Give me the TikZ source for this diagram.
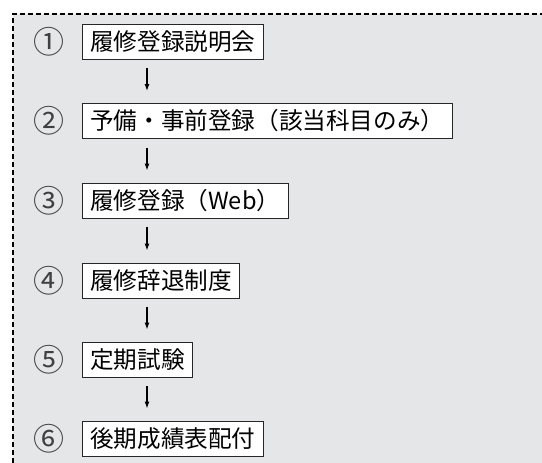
\documentclass[tikz,border=0pt]{standalone}
\usepackage{fontspec}
\setmainfont{Noto Sans CJK JP}
\usepackage{tikz}
\usetikzlibrary{arrows.meta}
\definecolor{panelgray}{HTML}{E5E6E8}
\tikzset{>={Latex[length=7pt,width=5pt]}}

\begin{document}
\begin{tikzpicture}[x=1pt, y=-1pt,
  entry/.style={draw=black!85, fill=white, line width=0.9pt, anchor=west,
    inner xsep=7.8pt, inner ysep=0pt, minimum height=35pt,
    text height=19.8pt, text depth=2.6pt, font=\fontsize{23.6}{28}\selectfont},
  num/.style={inner sep=0pt, font=\fontsize{31}{34}\selectfont, text=black!75}]
\useasboundingbox (0,0) rectangle (542,463);
% panel
\fill[panelgray] (13,14) rectangle (542,463);
\draw[line width=1.3pt, dash pattern=on 5pt off 3pt] (13,463) -- (13,14) -- (542,14);
% steps
\node[num] (n1) at (49,41.5) {①};
\node[entry] (e1) at (82,41.5) {履修登録説明会};
\node[num] (n2) at (49,121) {②};
\node[entry] (e2) at (82,121) {予備・事前登録（該当科目のみ）};
\node[num] (n3) at (49,200.5) {③};
\node[entry] (e3) at (82,200.5) {履修登録（Web）};
\node[num] (n4) at (49,280.5) {④};
\node[entry] (e4) at (82,280.5) {履修辞退制度};
\node[num] (n5) at (49,359.5) {⑤};
\node[entry] (e5) at (82,359.5) {定期試験};
\node[num] (n6) at (49,438.5) {⑥};
\node[entry] (e6) at (82,438.5) {後期成績表配付};
% arrows
\path[->, line width=1.2pt]
([xshift=65pt,yshift=-9pt]e1.south west) edge ([xshift=65pt,yshift=12pt]e2.north west)
([xshift=65pt,yshift=-9pt]e2.south west) edge ([xshift=65pt,yshift=12pt]e3.north west)
([xshift=65pt,yshift=-9pt]e3.south west) edge ([xshift=65pt,yshift=12pt]e4.north west)
([xshift=65pt,yshift=-9pt]e4.south west) edge ([xshift=65pt,yshift=12pt]e5.north west)
([xshift=65pt,yshift=-9pt]e5.south west) edge ([xshift=65pt,yshift=12pt]e6.north west)
;
\end{tikzpicture}
\end{document}
